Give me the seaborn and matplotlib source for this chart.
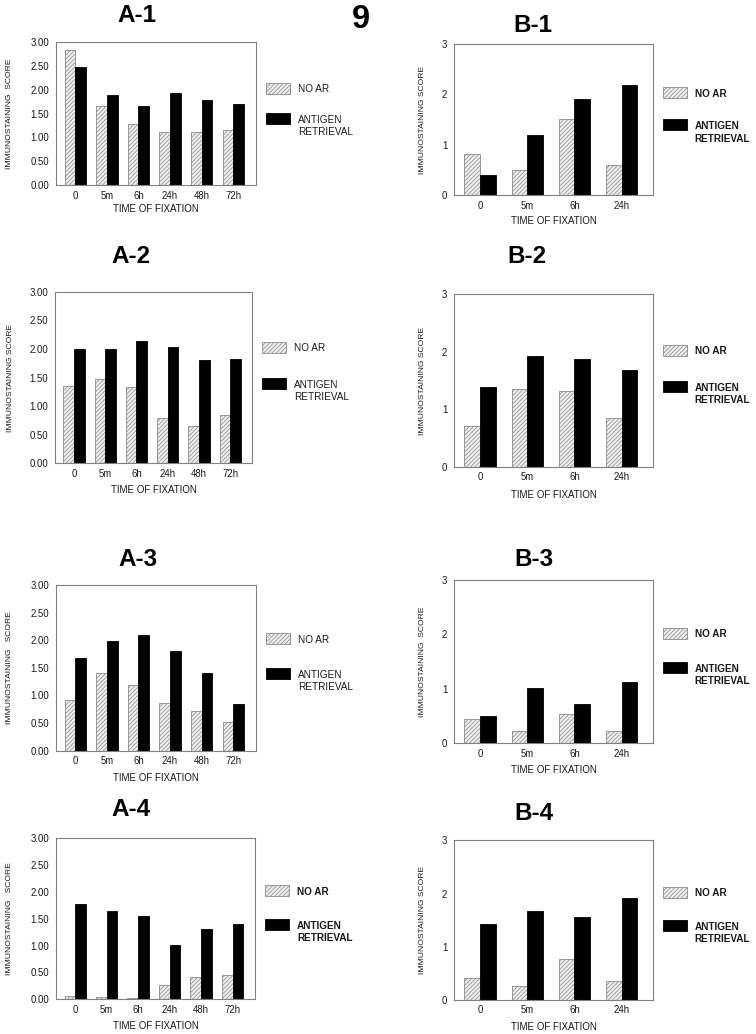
import numpy as np
import pandas as pd
import matplotlib
matplotlib.use("Agg")
import matplotlib.pyplot as plt
import seaborn as sns
from matplotlib.patches import Rectangle

# ---------------- data ----------------
times_A = ["0", "5m", "6h", "24h", "48h", "72h"]
times_B = ["0", "5m", "6h", "24h"]
groups = ["NO AR", "ANTIGEN RETRIEVAL"]

a1_no_ar = [2.83, 1.66, 1.29, 1.11, 1.11, 1.16]
a1_ar = [2.48, 1.89, 1.66, 1.93, 1.78, 1.70]
a2_no_ar = [1.35, 1.47, 1.34, 0.80, 0.65, 0.85]
a2_ar = [2.00, 2.00, 2.13, 2.03, 1.80, 1.83]
a3_no_ar = [0.92, 1.40, 1.19, 0.86, 0.72, 0.52]
a3_ar = [1.67, 1.99, 2.09, 1.80, 1.40, 0.84]
a4_no_ar = [0.07, 0.04, 0.02, 0.26, 0.41, 0.45]
a4_ar = [1.77, 1.64, 1.55, 1.01, 1.31, 1.41]

b1_no_ar = [0.81, 0.51, 1.51, 0.60]
b1_ar = [0.40, 1.19, 1.90, 2.19]
b2_no_ar = [0.70, 1.36, 1.32, 0.84]
b2_ar = [1.38, 1.93, 1.88, 1.68]
b3_no_ar = [0.45, 0.23, 0.54, 0.23]
b3_ar = [0.51, 1.01, 0.73, 1.12]
b4_no_ar = [0.41, 0.26, 0.77, 0.36]
b4_ar = [1.42, 1.68, 1.55, 1.92]

yticks_A = [0.0, 0.5, 1.0, 1.5, 2.0, 2.5, 3.0]
yticklabels_A = ["0.00", "0.50", "1.00", "1.50", "2.00", "2.50", "3.00"]
yticks_B = [0, 1, 2, 3]
yticklabels_B = ["0", "1", "2", "3"]

xlabel_text = "TIME OF FIXATION"

# ---------------- style ----------------
sns.set_style("white")
plt.rcParams["font.family"] = ["Liberation Sans", "DejaVu Sans"]
plt.rcParams["hatch.linewidth"] = 0.5

W, H, DPI = 756, 1034, 100
fig = plt.figure(figsize=(W / DPI, H / DPI), dpi=DPI)

GRAY = "#808080"
HATCH_EDGE = "#8a8a8a"
NOAR_FACE = "#ededed"
HATCH = "////////"
TXT = "#1a1a1a"

panels = [
    # name, times, no_ar, ar, (left, top, right, bottom) px, ylabel, legend bold, title pos, kind, xlabel offset
    ("A-1", times_A, a1_no_ar, a1_ar, (56, 41.7, 255.7, 185.3), "IMMUNOSTAINING  SCORE", False, (136.7, 15.5), "A", 24.0),
    ("B-1", times_B, b1_no_ar, b1_ar, (454.3, 43.7, 652.7, 195.3), "IMMUNOSTAINING SCORE", True, (533.3, 25), "B", 25.7),
    ("A-2", times_A, a2_no_ar, a2_ar, (55, 291.7, 252.3, 463.3), "IMMUNOSTAINING SCORE", False, (130.7, 256.7), "A", 26.7),
    ("B-2", times_B, b2_no_ar, b2_ar, (454.3, 294.3, 652.7, 466.7), "IMMUNOSTAINING SCORE", True, (527.3, 256.7), "B", 28.3),
    ("A-3", times_A, a3_no_ar, a3_ar, (56, 585, 255.7, 750.7), "IMMUNOSTAINING   SCORE", False, (137.5, 560), "A", 27.6),
    ("B-3", times_B, b3_no_ar, b3_ar, (454.3, 580, 652.7, 743.3), "IMMUNOSTAINING  SCORE", True, (533.7, 559), "B", 27.0),
    ("A-4", times_A, a4_no_ar, a4_ar, (56, 838.3, 255, 999.3), "IMMUNOSTAINING   SCORE", True, (130.8, 810), "A", 26.7),
    ("B-4", times_B, b4_no_ar, b4_ar, (454.3, 840.3, 652.7, 1000), "IMMUNOSTAINING SCORE", True, (533.7, 813.7), "B", 26.7),
]

for name, times, no_ar, ar, box, ylab, bold_leg, tpos, kind, xlab_off in panels:
    l, t, r, b = box
    wpx, hpx = r - l, b - t
    ax = fig.add_axes([l / W, 1 - b / H, wpx / W, hpx / H])
    n = len(times)
    df = pd.DataFrame({
        "time": list(times) * 2,
        "score": list(no_ar) + list(ar),
        "group": [groups[0]] * n + [groups[1]] * n,
    })
    bar_w = 0.68 if kind == "A" else 0.66
    sns.barplot(data=df, x="time", y="score", hue="group", order=times,
                hue_order=groups, palette={groups[0]: NOAR_FACE, groups[1]: "black"},
                width=bar_w, saturation=1, errorbar=None, legend=False,
                linewidth=0.6, ax=ax)
    for p in ax.containers[0]:
        p.set_hatch(HATCH)
        p.set_edgecolor(HATCH_EDGE)
        p.set_facecolor(NOAR_FACE)
    for p in ax.containers[1]:
        p.set_edgecolor("black")
        p.set_facecolor("black")

    if kind == "A":
        ax.set_xlim(-0.61, 5.71)
        ax.set_yticks(yticks_A)
        ax.set_yticklabels(yticklabels_A)
    else:
        ax.set_xlim(-0.544, 3.657)
        ax.set_yticks(yticks_B)
        ax.set_yticklabels(yticklabels_B)
    ax.set_ylim(0, 3)

    for s in ax.spines.values():
        s.set_visible(True)
        s.set_color(GRAY)
        s.set_linewidth(0.8)
    ax.tick_params(axis="x", length=0, pad=3.8, labelsize=6.9, colors=TXT)
    ax.tick_params(axis="y", direction="in", length=2, width=0.6, color=GRAY,
                   pad=5.0, labelsize=6.9, labelcolor=TXT)

    ax.set_xlabel(xlabel_text, fontsize=7.0, color=TXT, va="center")
    ax.xaxis.set_label_coords(0.5, -xlab_off / hpx)
    ax.set_ylabel(ylab, fontsize=6.1, color=TXT, va="center")
    ylab_x = 10 if kind == "A" else 423
    ax.yaxis.set_label_coords((ylab_x - l) / wpx, 0.5)

    # legend (drawn beside the axes)
    pw, ph = 24 / wpx, 11 / hpx
    px = 1.05
    tx = 1.05 + 32 / wpx
    y1, y2 = 0.675, 0.467
    fw = "bold" if bold_leg else "normal"
    ax.add_patch(Rectangle((px, y1 - ph / 2), pw, ph, transform=ax.transAxes,
                           clip_on=False, facecolor=NOAR_FACE, edgecolor=HATCH_EDGE,
                           hatch=HATCH, linewidth=0.6))
    ax.add_patch(Rectangle((px, y2 - ph / 2), pw, ph, transform=ax.transAxes,
                           clip_on=False, facecolor="black", edgecolor="black",
                           linewidth=0.6))
    ax.text(tx, y1 - 1 / hpx, "NO AR", transform=ax.transAxes, va="center",
            ha="left", fontsize=7.2, fontweight=fw, color=TXT)
    ax.text(tx, y2 - 1.5 / hpx, "ANTIGEN", transform=ax.transAxes, va="center",
            ha="left", fontsize=7.2, fontweight=fw, color=TXT)
    ax.text(tx, y2 - 14 / hpx, "RETRIEVAL", transform=ax.transAxes, va="center",
            ha="left", fontsize=7.2, fontweight=fw, color=TXT)

    fig.text(tpos[0] / W, 1 - tpos[1] / H, name, ha="center", va="center",
             fontsize=17.5, fontweight="bold", color="black")

fig.text(360.7 / W, 1 - 20 / H, "9", ha="center", va="center", fontsize=23.5,
         fontweight="bold", color="black")

fig.savefig("out.png", dpi=DPI)
